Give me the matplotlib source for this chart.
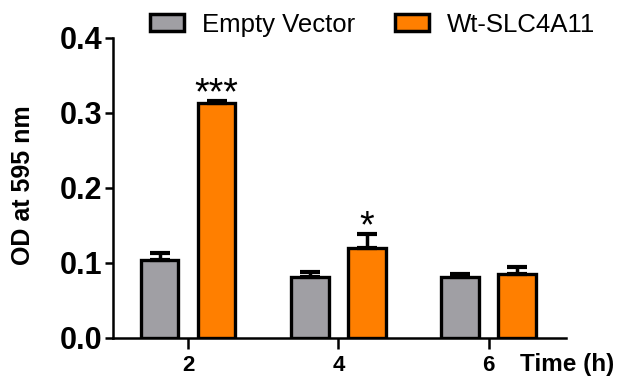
import numpy as np
import matplotlib
matplotlib.use("Agg")
import matplotlib.pyplot as plt
from matplotlib.patches import Patch

plt.rcParams['font.family'] = ['Liberation Sans', 'DejaVu Sans']

# data
times = [2, 4, 6]
empty_mean = [0.104, 0.081, 0.081]
empty_err = [0.009, 0.007, 0.004]
wt_mean = [0.313, 0.120, 0.085]
wt_err = [0.003, 0.019, 0.010]
stars = ['***', '*', '']
labels = ['Empty Vector', 'Wt-SLC4A11']
colors = ['#a09fa4', '#ff7f00']

fig = plt.figure(figsize=(6.26, 3.83), dpi=100)
ax = fig.add_axes([0.1805, 0.1175, 0.7235, 0.7833])

x = np.array(times, dtype=float)
w = 0.5
off = 0.38
ekw = dict(elinewidth=2.5, capsize=7.5, capthick=3, ecolor='black')
ax.bar(x - off, empty_mean, w, color=colors[0], edgecolor='black', linewidth=2.4,
       yerr=[np.zeros(3), empty_err], error_kw=ekw, zorder=3)
ax.bar(x + off, wt_mean, w, color=colors[1], edgecolor='black', linewidth=2.4,
       yerr=[np.zeros(3), wt_err], error_kw=ekw, zorder=3)

# significance stars just above the error bars
for xi, m, e, s in zip(x, wt_mean, wt_err, stars):
    if s:
        ax.text(xi + off, m + e - 0.005, s, ha='center', va='baseline', fontsize=27)

ax.set_xlim(1, 7.03)
ax.set_ylim(0, 0.4)
ax.set_yticks([0.0, 0.1, 0.2, 0.3, 0.4])
ax.set_yticklabels(['0.0', '0.1', '0.2', '0.3', '0.4'])
ax.set_xticks(times)
ax.set_xticklabels([str(t) for t in times])
for lab in ax.get_yticklabels():
    lab.set_fontsize(22)
    lab.set_fontweight('bold')
for lab in ax.get_xticklabels():
    lab.set_fontsize(16)
    lab.set_fontweight('bold')
ax.tick_params(axis='y', direction='out', length=6, width=1.8, pad=2)
ax.tick_params(axis='x', direction='out', length=8, width=1.8, pad=4)

for sp in ['top', 'right']:
    ax.spines[sp].set_visible(False)
for sp in ['left', 'bottom']:
    ax.spines[sp].set_linewidth(1.8)

ax.set_ylabel('OD at 595 nm', fontsize=18, fontweight='bold')
ax.yaxis.set_label_coords(-0.172, 0.51)
fig.text(0.831, 0.047, 'Time (h)', fontsize=17.5, fontweight='bold', ha='left', va='center')

handles = [Patch(facecolor=c, edgecolor='black', linewidth=2.5) for c in colors]
fig.legend(handles, labels, ncol=2, loc='center', bbox_to_anchor=(0.595, 0.935),
           frameon=False, fontsize=18.5, handlelength=1.33, handleheight=0.63,
           columnspacing=1.55, handletextpad=0.7, borderpad=0)

fig.savefig('out.png', dpi=100)
